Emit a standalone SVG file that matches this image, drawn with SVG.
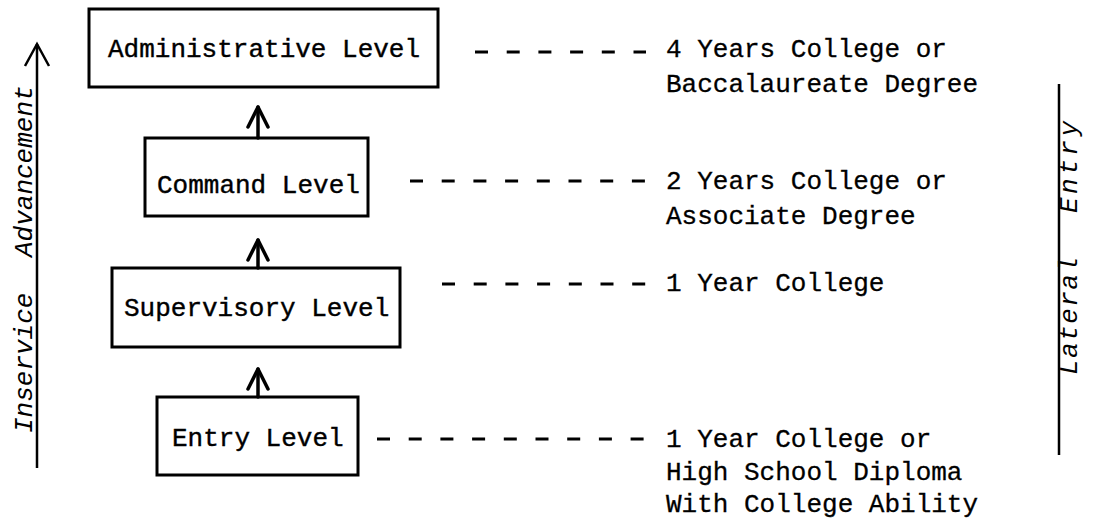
<svg xmlns="http://www.w3.org/2000/svg" width="1094" height="523" viewBox="0 0 1094 523">
  <style>
    .box { fill: #fff; stroke: #000; stroke-width: 3; }
    .lbl { font-family: "Liberation Mono", "DejaVu Sans Mono", monospace; font-size: 26px; fill: #000; stroke: #000; stroke-width: 0.4; }
    .req { font-family: "Liberation Mono", "DejaVu Sans Mono", monospace; font-size: 26px; fill: #000; stroke: #000; stroke-width: 0.3; }
    .axis { font-family: "Liberation Mono", "DejaVu Sans Mono", monospace; font-size: 26px; font-style: italic; fill: #000; }
    .dash { stroke: #000; stroke-width: 3; stroke-dasharray: 13 18.7; fill: none; }
    .up { stroke: #000; stroke-width: 3.5; fill: none; stroke-linecap: round; stroke-linejoin: round; }
    .rule { stroke: #000; stroke-width: 2.5; fill: none; }
  </style>

  <!-- vertical scale on the left -->
  <g id="inservice-advancement">
    <line class="rule" x1="37" y1="468" x2="37" y2="44"/>
    <polyline class="rule" points="25,66 37,44 49,66" stroke-width="3.5"/>
    <text class="axis" transform="translate(32,433) rotate(-90)">Inservice</text>
    <text class="axis" transform="translate(32,257) rotate(-90)">Advancement</text>
  </g>

  <!-- vertical scale on the right -->
  <g id="lateral-entry">
    <line class="rule" x1="1059" y1="84" x2="1059" y2="455"/>
    <text class="axis" transform="translate(1077,375) rotate(-90)" textLength="118" lengthAdjust="spacing">Lateral</text>
    <text class="axis" transform="translate(1077,213) rotate(-90)" textLength="92" lengthAdjust="spacing">Entry</text>
  </g>

  <g id="administrative">
    <rect class="box" x="89" y="9" width="349" height="78"/>
    <text class="lbl" x="108" y="57">Administrative Level</text>
  </g>

  <g id="command">
    <rect class="box" x="145" y="138" width="223" height="78"/>
    <text class="lbl" x="157" y="193">Command Level</text>
  </g>

  <g id="supervisory">
    <rect class="box" x="112" y="268" width="288" height="79"/>
    <text class="lbl" x="124" y="316">Supervisory Level</text>
  </g>

  <g id="entry">
    <rect class="box" x="157" y="397" width="201" height="78"/>
    <text class="lbl" x="172" y="446">Entry Level</text>
  </g>

  <g id="requirements">
    <text class="req" x="666" y="57">4 Years College or</text>
    <text class="req" x="666" y="92">Baccalaureate Degree</text>
    <text class="req" x="666" y="189">2 Years College or</text>
    <text class="req" x="666" y="224">Associate Degree</text>
    <text class="req" x="666" y="291">1 Year College</text>
    <text class="req" x="666" y="447">1 Year College or</text>
    <text class="req" x="666" y="480">High School Diploma</text>
    <text class="req" x="666" y="512">With College Ability</text>
  </g>

  <g id="connectors">
    <!-- promotion arrows between levels -->
    <line class="up" x1="258" y1="138" x2="258" y2="107"/>
    <polyline class="up" points="248,127 258,107 268,127"/>
    <line class="up" x1="258" y1="268" x2="258" y2="240"/>
    <polyline class="up" points="248,260 258,240 268,260"/>
    <line class="up" x1="258" y1="397" x2="258" y2="369"/>
    <polyline class="up" points="248,389 258,369 268,389"/>
    <!-- dashed leaders to entry requirements -->
    <line class="dash" x1="475" y1="52" x2="646" y2="52"/>
    <line class="dash" x1="410" y1="181" x2="646" y2="181"/>
    <line class="dash" x1="442" y1="284" x2="646" y2="284"/>
    <line class="dash" x1="377" y1="439" x2="646" y2="439"/>
  </g>
</svg>
